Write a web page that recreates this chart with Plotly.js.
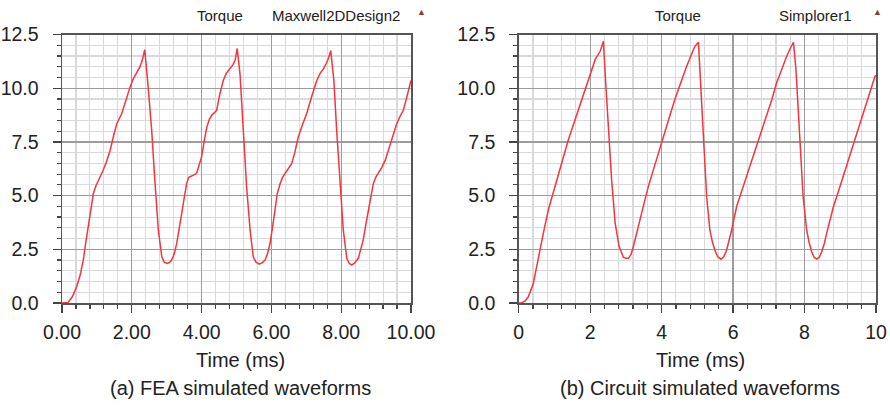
<!DOCTYPE html>
<html>
<head>
<meta charset="utf-8">
<script src="https://cdn.plot.ly/plotly-3.0.1.min.js"></script>
<style>html,body{margin:0;padding:0;background:#fff;}#plot{width:890px;height:407px;}</style>
</head>
<body>
<div id="plot"></div>
<script>
// (a) FEA simulated waveforms - Maxwell2DDesign2
const timeA = [0,0.17,0.3,0.42,0.52,0.61,0.68,0.76,0.83,0.90,0.97,1.04,1.11,1.18,1.28,1.38,1.48,1.57,1.71,1.85,1.95,2.04,2.14,2.23,2.30,2.37,2.45,2.57,2.66,2.76,2.86,2.93,3.0,3.07,3.14,3.22,3.29,3.36,3.43,3.50,3.57,3.63,3.72,3.80,3.86,3.93,4.0,4.08,4.15,4.22,4.29,4.36,4.43,4.52,4.62,4.71,4.81,4.90,4.96,5.02,5.10,5.20,5.29,5.39,5.48,5.56,5.65,5.74,5.82,5.89,5.96,6.03,6.10,6.17,6.25,6.32,6.39,6.48,6.58,6.67,6.77,6.89,7.01,7.15,7.30,7.40,7.49,7.57,7.63,7.70,7.79,7.87,7.97,8.06,8.16,8.23,8.30,8.38,8.49,8.56,8.63,8.70,8.78,8.85,8.92,8.99,9.06,9.16,9.26,9.33,9.40,9.50,9.59,9.69,9.78,9.88,10.0];
const torqueA = [0,0.02,0.3,0.76,1.3,2.0,2.8,3.7,4.5,5.1,5.45,5.7,5.9,6.18,6.6,7.11,7.8,8.35,8.81,9.59,10.05,10.44,10.7,10.98,11.3,11.8,10.4,8.05,5.72,3.4,2.15,1.9,1.84,1.87,2.0,2.3,2.8,3.5,4.3,5.0,5.56,5.85,5.9,5.98,6.05,6.4,6.8,7.6,8.19,8.55,8.74,8.85,8.97,9.7,10.36,10.7,10.9,11.1,11.3,11.85,10.67,8.04,5.4,3.39,2.15,1.9,1.81,1.88,2.0,2.3,2.77,3.5,4.32,5.1,5.56,5.85,6.03,6.25,6.49,7.0,7.73,8.3,8.81,9.59,10.36,10.7,10.9,11.15,11.37,11.75,10.36,8.04,5.56,3.39,2.08,1.85,1.77,1.85,2.08,2.45,2.93,3.6,4.32,5.0,5.56,5.85,6.03,6.3,6.64,7.0,7.42,7.9,8.35,8.7,8.97,9.59,10.36];

// (b) Circuit simulated waveforms - Simplorer1
const timeB = [0,0.08,0.18,0.27,0.41,0.55,0.69,0.83,1.02,1.20,1.39,1.58,1.76,1.95,2.14,2.28,2.37,2.43,2.51,2.60,2.70,2.81,2.93,3.0,3.07,3.14,3.21,3.30,3.39,3.51,3.63,3.81,4.0,4.18,4.37,4.53,4.70,4.83,4.93,5.03,5.07,5.17,5.26,5.35,5.42,5.49,5.57,5.66,5.74,5.82,5.89,5.96,6.03,6.10,6.24,6.38,6.52,6.66,6.80,6.94,7.08,7.22,7.36,7.50,7.60,7.69,7.76,7.87,7.96,8.06,8.13,8.20,8.27,8.34,8.41,8.48,8.55,8.62,8.71,8.81,8.95,9.08,9.22,9.36,9.50,9.64,9.80,9.97,10.0];
const torqueB = [0,0,0.1,0.29,0.92,2.16,3.25,4.34,5.43,6.52,7.6,8.54,9.47,10.4,11.33,11.72,12.19,10.4,8.07,5.74,3.72,2.63,2.13,2.08,2.08,2.25,2.63,3.2,3.87,4.65,5.43,6.45,7.45,8.45,9.47,10.25,11.02,11.55,11.95,12.14,10.87,7.45,4.96,3.40,2.85,2.47,2.15,2.04,2.15,2.47,2.9,3.40,3.95,4.49,5.2,5.89,6.6,7.29,8.0,8.69,9.45,10.25,10.9,11.49,11.85,12.14,10.87,7.45,4.96,3.40,2.8,2.39,2.12,2.04,2.12,2.39,2.75,3.25,3.85,4.49,5.2,5.89,6.6,7.29,8.05,8.85,9.65,10.55,10.6];

const xTickValsA = [0,2,4,6,8,10];
const xTickTextA = ['0.00','2.00','4.00','6.00','8.00','10.00'];
const xTickTextB = ['0','2','4','6','8','10'];
const yTickVals = [0,2.5,5,7.5,10,12.5];
const yTickText = ['0.0','2.5','5.0','7.5','10.0','12.5'];
const quantityLabel = 'Torque';
const sourceA = 'Maxwell2DDesign2';
const sourceB = 'Simplorer1';
const xTitle = 'Time (ms)';
const captionA = '(a) FEA simulated waveforms';
const captionB = '(b) Circuit simulated waveforms';

const FONT = 'Liberation Sans, Arial, sans-serif';
const lineColor = '#f4343f';

function xAxis(domain, ticktext, anchor) {
  return {
    domain: domain, range: [0, 10], anchor: anchor,
    tickmode: 'array', tickvals: xTickValsA, ticktext: ticktext,
    ticks: 'outside', ticklen: 8, tickwidth: 1.3, tickcolor: '#444',
    showline: true, linecolor: '#555', linewidth: 1.5, mirror: true,
    showgrid: true, gridcolor: '#9c9c9c', gridwidth: 1.2,
    zeroline: false,
    tickfont: {family: FONT, size: 19.5, color: '#222'},
    ticklabelstandoff: 3,
    minor: {dtick: 0.4, tick0: 0, ticks: 'outside', ticklen: 4, tickwidth: 1.2, tickcolor: '#444', showgrid: true, gridcolor: '#d9d9d9', gridwidth: 1.1}
  };
}
function yAxis(anchor) {
  return {
    domain: [0.2555, 0.9152], range: [0, 12.5], anchor: anchor,
    tickmode: 'array', tickvals: yTickVals, ticktext: yTickText,
    ticks: 'outside', ticklen: 8, tickwidth: 1.3, tickcolor: '#444',
    showline: true, linecolor: '#555', linewidth: 1.5, mirror: true,
    showgrid: true, gridcolor: '#9c9c9c', gridwidth: 1.2,
    zeroline: false,
    tickfont: {family: FONT, size: 19.5, color: '#222'},
    ticklabelstandoff: 10,
    minor: {dtick: 0.5, tick0: 0, ticks: 'outside', ticklen: 4, tickwidth: 1.2, tickcolor: '#444', showgrid: true, gridcolor: '#d9d9d9', gridwidth: 1.1}
  };
}

const traces = [
  {x: timeA, y: torqueA, xaxis: 'x', yaxis: 'y', type: 'scatter', mode: 'lines', line: {color: lineColor, width: 1.5}, hoverinfo: 'skip'},
  {x: timeB, y: torqueB, xaxis: 'x2', yaxis: 'y2', type: 'scatter', mode: 'lines', line: {color: lineColor, width: 1.5}, hoverinfo: 'skip'}
];

function ann(text, x, y, size, extra) {
  return Object.assign({text: text, x: x, y: y, xref: 'paper', yref: 'paper', xanchor: 'center', yanchor: 'middle', showarrow: false, font: {family: FONT, size: size, color: '#222'}}, extra || {});
}
const H = 407, W = 890;
const layout = {
  width: W, height: H,
  margin: {l: 0, r: 0, t: 0, b: 0},
  paper_bgcolor: '#fff', plot_bgcolor: '#fff',
  showlegend: false,
  xaxis: xAxis([62/W, 411/W], xTickTextA, 'y'),
  yaxis: yAxis('x'),
  xaxis2: xAxis([518.7/W, 876/W], xTickTextB, 'y2'),
  yaxis2: yAxis('x2'),
  annotations: [
    ann(quantityLabel, 220/W, 1 - 16/H, 15),
    ann(sourceA, 335.5/W, 1 - 16/H, 15),
    ann('▲', 421/W, 1 - 12.5/H, 9, {font: {family: FONT, size: 9, color: '#8a3a3a'}}),
    ann(quantityLabel, 677.5/W, 1 - 16/H, 15),
    ann(sourceB, 815/W, 1 - 16/H, 15),
    ann('▲', 877/W, 1 - 12.5/H, 9, {font: {family: FONT, size: 9, color: '#8a3a3a'}}),
    ann(xTitle, 240.5/W, 1 - 360/H, 20),
    ann(xTitle, 700/W, 1 - 360/H, 20),
    ann(captionA, 240/W, 1 - 388/H, 20),
    ann(captionB, 700/W, 1 - 388/H, 20)
  ]
};

Plotly.newPlot('plot', traces, layout, {staticPlot: true, displayModeBar: false});
</script>
</body>
</html>
